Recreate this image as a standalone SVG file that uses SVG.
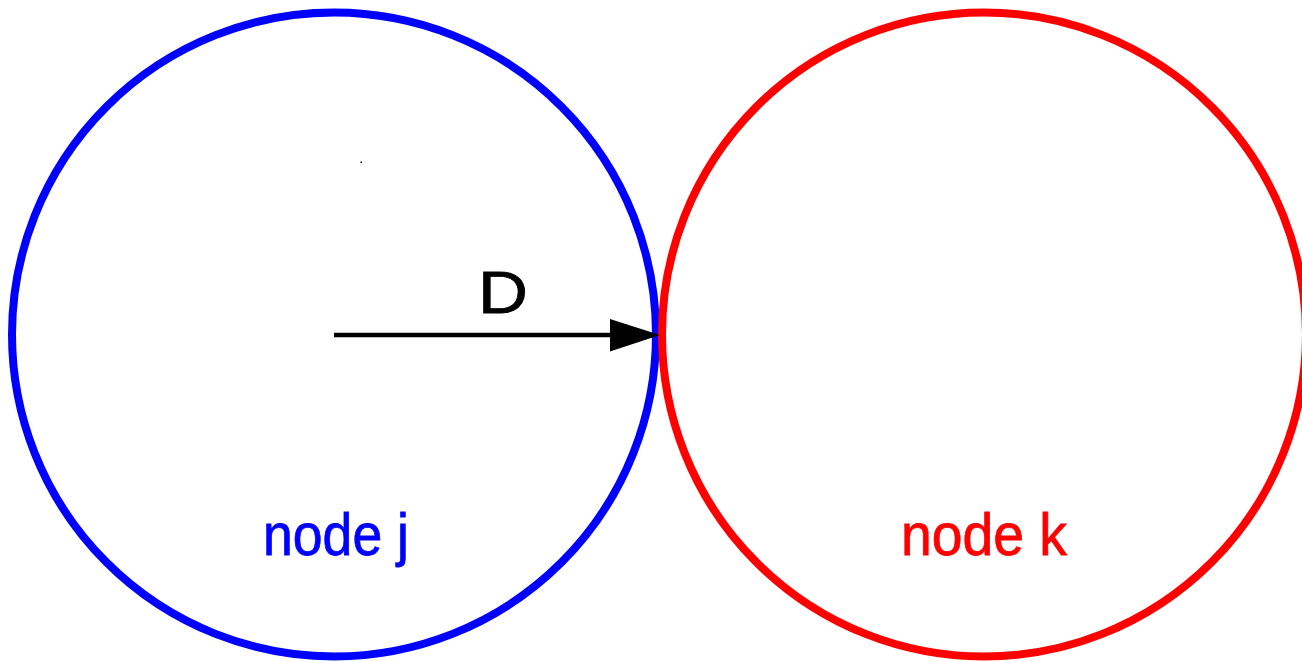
<svg xmlns="http://www.w3.org/2000/svg" width="1302" height="661" viewBox="0 0 1302 661">
<style>
.ring{fill:none;stroke-width:8}
.lbl{font-family:"Liberation Sans",Arial,sans-serif;font-size:60px;text-anchor:middle;stroke-width:0.8}
</style>
<rect width="1302" height="661" fill="#fff"/>
<g id="node-j">
<circle class="ring" cx="334" cy="334.5" r="322" stroke="#0000ff"/>
<text class="lbl" x="336" y="555" fill="#0000ff" stroke="#0000ff" textLength="146" lengthAdjust="spacingAndGlyphs">node j</text>
</g>
<g id="node-k">
<circle class="ring" cx="984" cy="334.5" r="322" stroke="#ff0000"/>
<text class="lbl" x="984" y="555" fill="#ff0000" stroke="#ff0000" textLength="166" lengthAdjust="spacingAndGlyphs">node k</text>
</g>
<g id="connectors">
<line x1="334" y1="335" x2="612" y2="335" stroke="#000" stroke-width="4.5"/>
<polygon points="610,319 660,335 610,351.5" fill="#000"/>
<text class="lbl" x="503" y="313" fill="#000" stroke="#000" textLength="50" lengthAdjust="spacingAndGlyphs">D</text>
</g>
<rect x="360.5" y="161.5" width="1.5" height="1.5" fill="#000"/>
</svg>
